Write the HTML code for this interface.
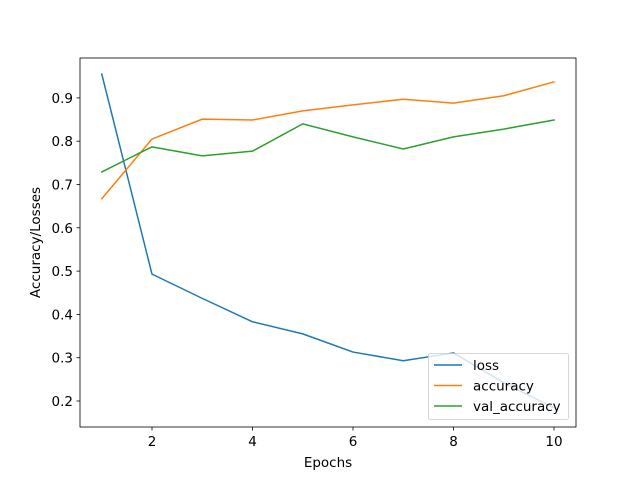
<!DOCTYPE html>
<html><head><meta charset="utf-8"><style>
body{margin:0;background:#fff;}
svg{font-family:"DejaVu Sans","Liberation Sans",sans-serif;}
</style></head><body>
<svg width="640" height="480" id="chart">
<rect width="640" height="480" fill="#fff"/>
</svg>
<script>
const epochs=[1,2,3,4,5,6,7,8,9,10];
const loss=[0.955,0.493,0.437,0.383,0.355,0.313,0.293,0.311,0.242,0.184];
const accuracy=[0.667,0.805,0.851,0.849,0.870,0.884,0.897,0.888,0.905,0.937];
const valAccuracy=[0.729,0.787,0.766,0.777,0.840,0.810,0.782,0.810,0.828,0.849];
const xTicks=[2,4,6,8,10];
const yTicks=[0.2,0.3,0.4,0.5,0.6,0.7,0.8,0.9];
const NS="http://www.w3.org/2000/svg";
const svg=document.getElementById('chart');
const L=80,R=576,T=58,B=427;
const x=v=>152+(v-2)*(554-152)/8;
const y=v=>401-(v-0.2)*433;
function el(t,a){const e=document.createElementNS(NS,t);for(const k in a)e.setAttribute(k,a[k]);svg.appendChild(e);return e;}
function series(d,c,name){const p=el('polyline',{points:d.map((v,i)=>x(epochs[i])+','+y(v)).join(' '),fill:'none',stroke:c,'stroke-width':1.5,'stroke-linejoin':'round','stroke-linecap':'square'});

}
series(loss,'#1f77b4','loss-line');
series(accuracy,'#ff7f0e','accuracy-line');
series(valAccuracy,'#2ca02c','val-accuracy-line');
const ax=el('rect',{x:L,y:T,width:R-L,height:B-T,fill:'none',stroke:'#000','stroke-width':0.8});


xTicks.forEach(t=>{el('line',{x1:x(t),x2:x(t),y1:B,y2:B+3.5,stroke:'#000','stroke-width':0.8});
const tx=el('text',{x:x(t),y:B+19,'text-anchor':'middle','font-size':13.5});tx.textContent=t;

});
yTicks.forEach(t=>{el('line',{x1:L,x2:L-3.5,y1:y(t),y2:y(t),stroke:'#000','stroke-width':0.8});
const tx=el('text',{x:L-7,y:y(t)+5,'text-anchor':'end','font-size':13.5});tx.textContent=t.toFixed(1);

});
const xl=el('text',{x:(L+R)/2,y:467,'text-anchor':'middle','font-size':13.5});xl.textContent='Epochs';


const yl=el('text',{x:0,y:0,'text-anchor':'middle','font-size':13.5,transform:`translate(40,${(T+B)/2}) rotate(-90)`});yl.textContent='Accuracy/Losses';


const lg=el('rect',{x:428.5,y:353.5,width:140,height:66,rx:2,fill:'#fff','fill-opacity':0.8,stroke:'#ccc','stroke-width':0.8});


[['loss','#1f77b4'],['accuracy','#ff7f0e'],['val_accuracy','#2ca02c']].forEach((e,i)=>{
const yy=365+i*20.5;
el('line',{x1:434,x2:462,y1:yy,y2:yy,stroke:e[1],'stroke-width':1.5});
const t=el('text',{x:473,y:yy+5,'font-size':13.5});t.textContent=e[0];

});
</script>
</body></html>
